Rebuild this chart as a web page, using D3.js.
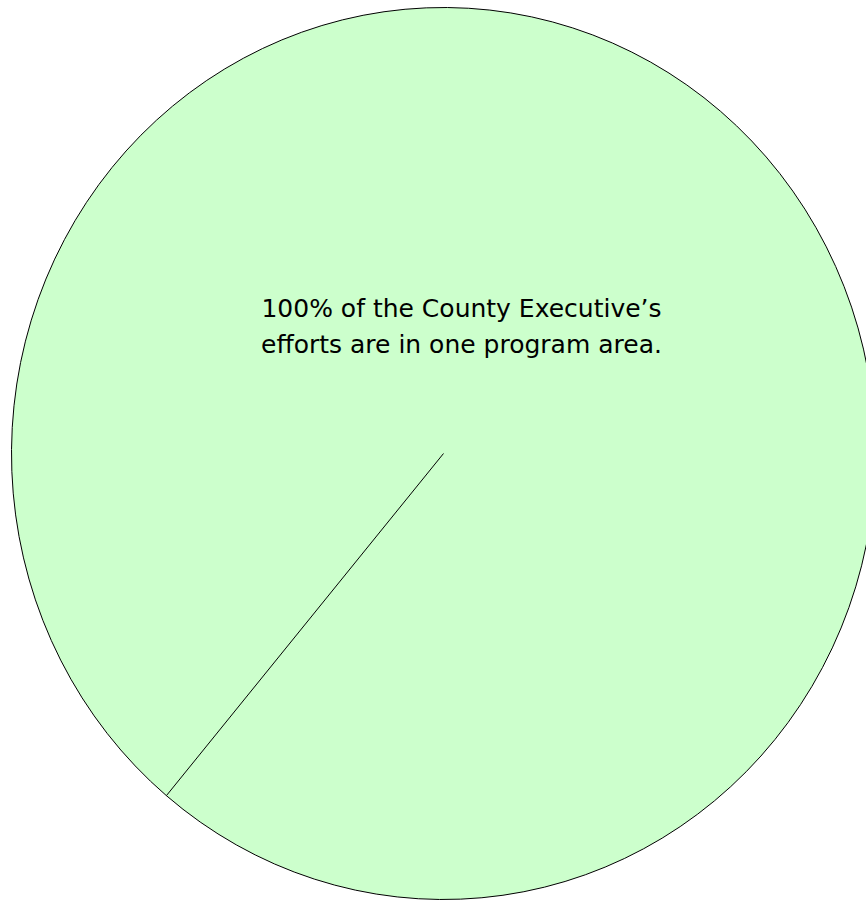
<!DOCTYPE html>
<html>
<head>
<meta charset="utf-8">
<script src="https://cdnjs.cloudflare.com/ajax/libs/d3/7.8.5/d3.min.js"></script>
<title>County Executive</title>
<style>
  body{ margin: 0; background-color: #fff; }
  text{ font-family: "DejaVu Sans", sans-serif; font-size: 25px; fill: #000; }
</style>
</head>
<body>
<script>
// one program area holds all of the effort
var programs = ["County Executive"],
    shares = [100],
    noteLines = ["100% of the County Executive\u2019s", "efforts are in one program area."];

var w = 866, h = 901,
    cx = 443.5, cy = 453.5, // centre of the pie
    rx = 432, ry = 446,     // the pie is drawn a little squashed
    start = 219.9 * Math.PI / 180;

var svg = d3.select("body").append("svg")
    .attr("width", w)
    .attr("height", h);

var pie = d3.pie()
    .sort(null)
    .startAngle(start)
    .endAngle(start + 2 * Math.PI);

var arcs = pie(shares);

var arc = d3.arc().innerRadius(0).outerRadius(ry);

// squeeze the round pie sideways into the ellipse
var g = svg.append("g")
    .attr("transform", "translate(" + cx + "," + cy + ") scale(" + (rx / ry) + ",1)");

g.selectAll("path")
  .data(arcs)
  .enter().append("path")
    .attr("d", arc)
    .attr("fill", "#ccffcc")
    .attr("stroke", "#000")
    .attr("stroke-width", 1)
    .attr("vector-effect", "non-scaling-stroke");

// a full slice has no radial edge in d3.arc, so draw its start edge
g.selectAll("line")
  .data(arcs)
  .enter().append("line")
    .attr("x1", 0).attr("y1", 0)
    .attr("x2", function(d){ return d3.pointRadial(d.startAngle, ry)[0]; })
    .attr("y2", function(d){ return d3.pointRadial(d.startAngle, ry)[1]; })
    .attr("stroke", "#000")
    .attr("stroke-width", 1)
    .attr("vector-effect", "non-scaling-stroke");

svg.append("text")
    .attr("x", 461.5)
    .attr("y", 317)
    .attr("text-anchor", "middle")
  .selectAll("tspan")
  .data(noteLines)
  .enter().append("tspan")
    .attr("x", 461.5)
    .attr("dy", function(d, i){ return i ? 36 : 0; })
    .text(function(d){ return d; });
</script>
</body>
</html>
